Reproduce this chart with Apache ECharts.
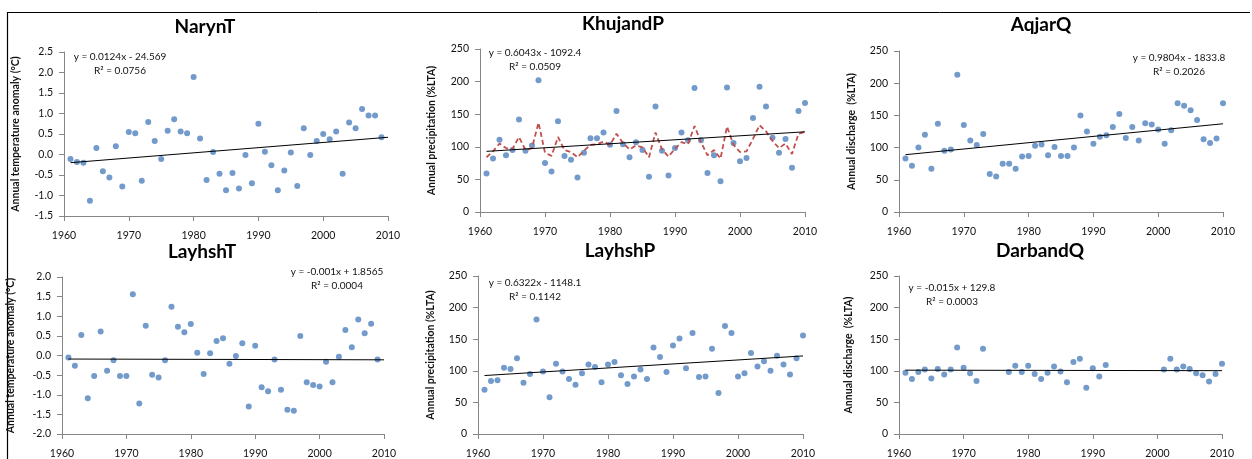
<!DOCTYPE html>
<html><head><meta charset="utf-8">
<script src="https://cdn.jsdelivr.net/npm/echarts@6/dist/echarts.min.js"></script>
<style>html,body{margin:0;padding:0;background:#fff}#c{width:1252px;height:459px}</style>
</head><body><div id="c"></div>
<script>
const years = [1961,1962,1963,1964,1965,1966,1967,1968,1969,1970,1971,1972,1973,1974,1975,1976,1977,1978,1979,1980,1981,1982,1983,1984,1985,1986,1987,1988,1989,1990,1991,1992,1993,1994,1995,1996,1997,1998,1999,2000,2001,2002,2003,2004,2005,2006,2007,2008,2009,2010];
const trendYears = [1961, 2010];
const xTicks = [1960, 1970, 1980, 1990, 2000, 2010];

const narynT = [-0.11,-0.18,-0.20,-1.13,0.16,-0.41,-0.56,0.20,-0.78,0.55,
  0.52,-0.64,0.79,0.33,-0.11,0.58,0.86,0.56,0.52,1.89,
  0.39,-0.62,0.06,-0.47,-0.87,-0.45,-0.83,-0.01,-0.70,0.75,
  0.07,-0.26,-0.87,-0.39,0.05,-0.77,0.64,-0.01,0.33,0.50,
  0.37,0.56,-0.47,0.78,0.64,1.11,0.95,0.95,0.42];
const narynTrend = [-0.20, 0.42];

const khujandP = [59,82,111,87,95,142,94,102,202,75,
  62,139,86,80,53,91,113,113,122,103,
  155,104,84,107,95,54,162,94,56,98,
  122,110,190,110,60,87,47,191,106,78,
  83,144,192,162,114,91,112,68,155,167];
const khujandSmooth = [84,93,105,98,97,115,95,98,137,91,
  86,115,95,92,84,94,103,104,108,103,
  120,106,96,102,99,84,122,96,85,97,
  107,104,132,107,87,95,82,131,103,92,
  93,112,133,124,109,98,105,89,120,123];
const khujandTrend = [93, 123];

const aqjarQ = [83,72,100,120,67,137,95,97,213,135,
  111,104,121,59,55,75,75,67,86,87,
  103,105,88,101,87,87,100,150,125,106,
  117,119,132,152,115,132,111,138,136,128,
  106,127,169,165,158,143,113,107,114,169];
const aqjarTrend = [89, 137];

const layhshT = [-0.05,-0.26,0.52,-1.09,-0.52,0.61,-0.39,-0.12,-0.52,-0.52,
  1.56,-1.22,0.76,-0.49,-0.56,-0.12,1.24,0.73,0.59,0.80,
  0.07,-0.47,0.06,0.37,0.44,-0.21,-0.01,0.31,-1.30,0.25,
  -0.81,-0.91,-0.10,-0.87,-1.38,-1.41,0.50,-0.68,-0.75,-0.79,
  -0.16,-0.68,-0.03,0.65,0.21,0.92,0.57,0.81,-0.10];
const layhshTTrend = [-0.09, -0.11];

const layhshP = [70,84,85,105,103,120,81,95,181,99,
  58,111,99,87,78,96,110,106,82,110,
  114,93,79,91,102,87,137,122,98,140,
  151,104,160,90,91,135,65,171,160,91,
  96,128,107,115,100,124,110,94,120,156];
const layhshPTrend = [92.5, 123.5];

const darbandQ = [97,87,98,102,88,103,94,102,137,105,
  96,84,135,null,null,null,98,108,98,108,
  95,87,97,107,99,82,114,119,73,104,
  91,109,null,null,null,null,null,null,null,null,
  102,119,102,107,103,96,93,83,95,111];
const darbandTrend = [101, 100.2];

const panels = [
  {title:'NarynT', vals:narynT, trend:narynTrend, smooth:null, yName:'Annual temperature anomaly (°C)', ymin:-1.5, ymax:2.5, yint:0.5, dec:1,
   eq:['y = 0.0124x - 24.569','R² = 0.0756'], grid:{left:64,top:52,width:324,height:164}, tpos:[205,27], epos:[120,57], nameGap:43},
  {title:'KhujandP', vals:khujandP, trend:khujandTrend, smooth:khujandSmooth, yName:'Annual precipitation (%LTA)', ymin:0, ymax:250, yint:50, dec:0,
   eq:['y = 0.6043x - 1092.4','R² = 0.0509'], grid:{left:480,top:49,width:325,height:163}, tpos:[623,24], epos:[535,53], nameGap:43},
  {title:'AqjarQ', vals:aqjarQ, trend:aqjarTrend, smooth:null, yName:'Annual discharge  (%LTA)', ymin:0, ymax:250, yint:50, dec:0,
   eq:['y = 0.9804x - 1833.8','R² = 0.2026'], grid:{left:899,top:51,width:324,height:161}, tpos:[1041,25], epos:[1179,58], nameGap:42},
  {title:'LayhshT', vals:layhshT, trend:layhshTTrend, smooth:null, yName:'Annual temperature anomaly (°C)', ymin:-2, ymax:2, yint:0.5, dec:1,
   eq:['y = -0.001x + 1.8565','R² = 0.0004'], grid:{left:62,top:277,width:322,height:162}, tpos:[202,252], epos:[337,272], nameGap:46},
  {title:'LayhshP', vals:layhshP, trend:layhshPTrend, smooth:null, yName:'Annual precipitation (%LTA)', ymin:0, ymax:250, yint:50, dec:0,
   eq:['y = 0.6322x - 1148.1','R² = 0.1142'], grid:{left:478,top:276,width:325,height:162}, tpos:[620,251], epos:[535,283], nameGap:42},
  {title:'DarbandQ', vals:darbandQ, trend:darbandTrend, smooth:null, yName:'Annual discharge  (%LTA)', ymin:0, ymax:250, yint:50, dec:0,
   eq:['y = -0.015x + 129.8','R² = 0.0003'], grid:{left:899,top:276,width:323,height:161}, tpos:[1040,251], epos:[952,288], nameGap:45}
];

const FONT = 'Lato, "Liberation Sans", sans-serif';
const axisGray = '#868686';
const grids = [], xAxes = [], yAxes = [], series = [], graphics = [];

panels.forEach((p, i) => {
  grids.push(Object.assign({containLabel:false}, p.grid));
  xAxes.push({
    type:'value', gridIndex:i, min:xTicks[0], max:xTicks[xTicks.length-1], interval:10,
    axisLine:{show:true, onZero:false, lineStyle:{color:axisGray, width:1}},
    axisTick:{show:true, inside:false, length:5, lineStyle:{color:axisGray}},
    splitLine:{show:false},
    axisLabel:{margin:14, color:'#111', fontSize:10.5, fontFamily:FONT, formatter:v=>String(v)}
  });
  yAxes.push({
    type:'value', gridIndex:i, min:p.ymin, max:p.ymax, interval:p.yint,
    name:p.yName, nameLocation:'middle', nameRotate:90, nameGap:p.nameGap,
    nameTextStyle:{color:'#111', fontSize:10.5, fontWeight:'bold', fontFamily:FONT},
    axisLine:{show:true, onZero:false, lineStyle:{color:axisGray, width:1}},
    axisTick:{show:true, inside:false, length:5, lineStyle:{color:axisGray}},
    splitLine:{show:false},
    axisLabel:{margin:11, color:'#111', fontSize:10.5, fontFamily:FONT, formatter:v=>v.toFixed(p.dec)}
  });
  const pts = [];
  p.vals.forEach((v, k) => { if (v !== null && v !== undefined) pts.push([years[k], v]); });
  series.push({type:'scatter', xAxisIndex:i, yAxisIndex:i, data:pts, symbol:'circle', symbolSize:6,
    itemStyle:{color:'#4F81BD'}, silent:true, z:2});
  if (p.smooth) {
    series.push({type:'line', xAxisIndex:i, yAxisIndex:i, data:p.smooth.map((v,k)=>[years[k], v]),
      showSymbol:false, symbol:'none', lineStyle:{color:'#C0504D', width:1.8, type:[5,3]}, silent:true, z:3});
  }
  series.push({type:'line', xAxisIndex:i, yAxisIndex:i, data:trendYears.map((y,k)=>[y, p.trend[k]]),
    showSymbol:false, symbol:'none', lineStyle:{color:'#000', width:1}, silent:true, z:4});
  graphics.push({type:'text', z:10, style:{text:p.title, x:p.tpos[0], y:p.tpos[1], align:'center', verticalAlign:'middle',
    font:'bold 19px ' + FONT, fill:'#000'}});
  graphics.push({type:'text', z:10, style:{text:p.eq[0], x:p.epos[0], y:p.epos[1], align:'center', verticalAlign:'middle',
    font:'10px ' + FONT, fill:'#111'}});
  graphics.push({type:'text', z:10, style:{text:p.eq[1], x:p.epos[0], y:p.epos[1]+13.5, align:'center', verticalAlign:'middle',
    font:'10px ' + FONT, fill:'#111'}});
});

// frame lines
graphics.push({type:'line', shape:{x1:8, y1:12.5, x2:1250, y2:12.5}, style:{stroke:'#000', lineWidth:1}});
graphics.push({type:'line', shape:{x1:7.5, y1:12, x2:7.5, y2:459}, style:{stroke:'#000', lineWidth:1.2}});

const chart = echarts.init(document.getElementById('c'), null, {renderer:'canvas'});
chart.setOption({
  backgroundColor:'#fff', animation:false,
  grid:grids, xAxis:xAxes, yAxis:yAxes, series:series, graphic:graphics
});
</script></body></html>
